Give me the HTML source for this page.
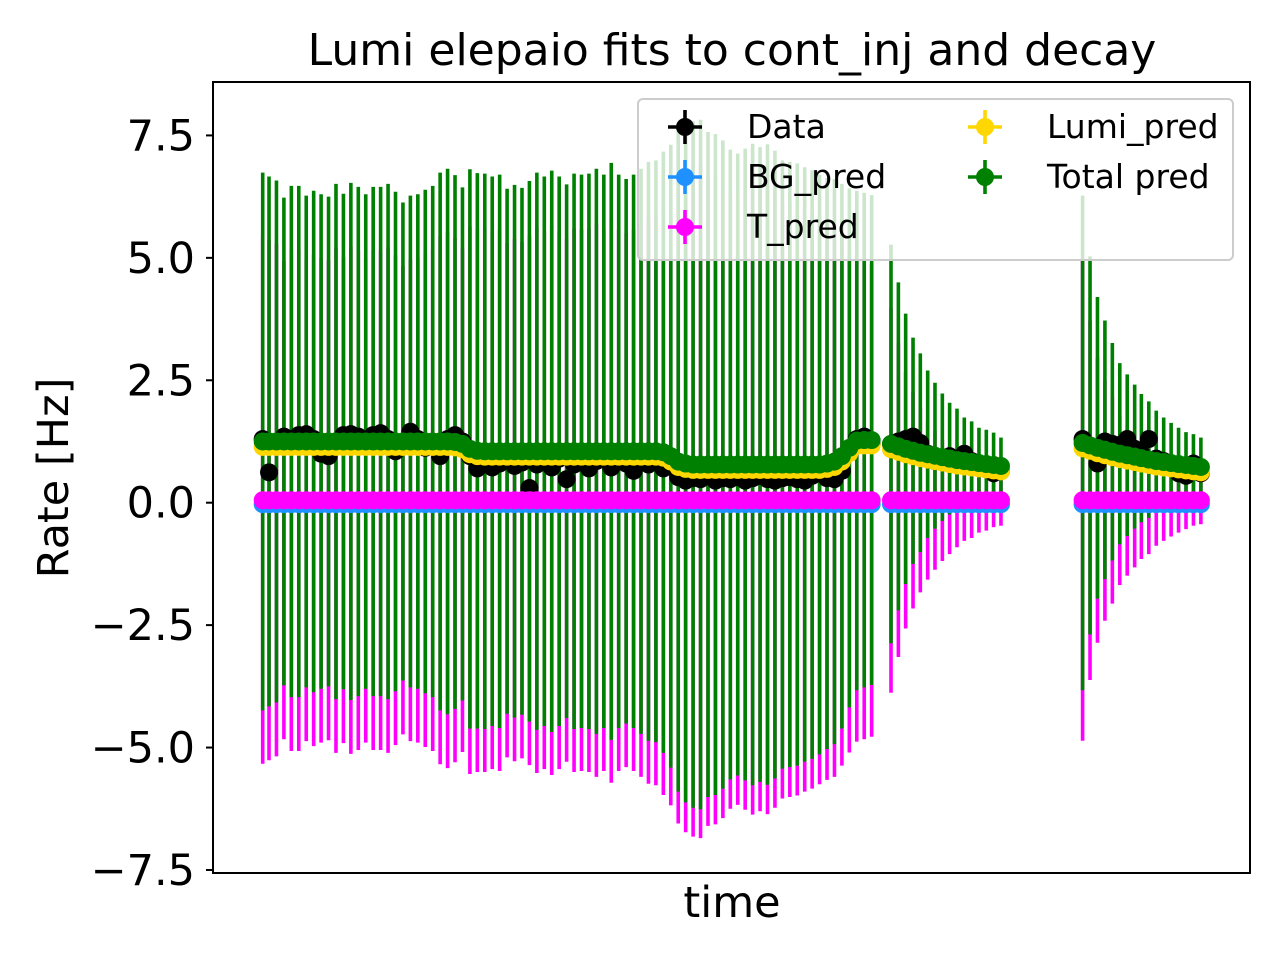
<!DOCTYPE html>
<html><head><meta charset="utf-8"><style>
html,body{margin:0;padding:0;background:#fff;}
svg{display:block;font-family:"DejaVu Sans","Liberation Sans",sans-serif;}
</style></head><body>
<svg id="chart" width="1280" height="960" viewBox="0 0 1280 960" xmlns="http://www.w3.org/2000/svg">
<rect x="0" y="0" width="1280" height="960" fill="#fff"/>
<text x="732" y="65" text-anchor="middle" font-size="44" fill="#000">Lumi elepaio fits to cont_inj and decay</text>
<g id="plot"></g>
<text x="732" y="917" text-anchor="middle" font-size="43" fill="#000">time</text>
<text transform="translate(68,478) rotate(-90)" text-anchor="middle" font-size="43" fill="#000">Rate [Hz]</text>
</svg>
<script>
const times=[0,0.85,1.85,2.85,3.85,4.85,5.85,6.85,7.85,8.85,9.85,10.85,11.85,12.85,13.85,14.85,15.85,16.85,17.85,18.85,19.85,20.85,21.85,22.85,23.85,24.85,25.85,26.85,27.85,28.85,29.85,30.85,31.85,32.85,33.85,34.85,35.85,36.85,37.85,38.85,39.85,40.85,41.85,42.85,43.85,44.85,45.85,46.85,47.85,48.85,49.85,50.85,51.85,52.85,53.85,54.85,55.85,56.85,57.85,58.85,59.85,60.85,61.85,62.85,63.85,64.85,65.85,66.85,67.85,68.85,69.85,70.85,71.85,72.85,73.85,74.85,75.85,76.85,77.85,78.85,79.85,80.85,81.85,
84.45,85.44,86.42,87.41,88.39,89.38,90.36,91.35,92.33,93.32,94.30,95.29,96.27,97.26,98.24,99.23,
110.2,111.2,112.2,113.2,114.2,115.2,116.2,117.2,118.1,119.1,120.1,121.1,122.1,123.1,124.1,125.1,126.1];
const totalPred=[1.25,1.25,1.25,1.25,1.25,1.25,1.25,1.25,1.25,1.25,1.25,1.25,1.25,1.25,1.25,1.25,1.25,1.25,1.25,1.25,1.25,1.25,1.25,1.25,1.25,1.25,1.24,1.20,
1.10,1.06,1.05,1.05,1.05,1.05,1.05,1.05,1.05,1.05,1.05,1.05,1.05,1.05,1.05,1.05,1.05,1.05,1.05,1.05,1.05,1.05,1.05,1.05,1.05,1.05,1.03,0.95,
0.84,0.80,0.78,0.78,0.78,0.78,0.78,0.78,0.78,0.78,0.78,0.78,0.78,0.78,0.78,0.78,0.78,0.78,0.78,0.78,0.80,0.84,
0.95,1.12,1.27,1.28,1.28,
1.20,1.15,1.10,1.06,1.02,0.99,0.96,0.93,0.90,0.87,0.85,0.83,0.81,0.79,0.77,0.75,
1.22,1.17,1.12,1.08,1.04,1.00,0.97,0.94,0.91,0.88,0.85,0.83,0.81,0.79,0.77,0.75,0.73];
const totalErr=[5.49,5.41,5.33,4.98,5.22,5.22,5.02,5.12,5.05,5.00,5.26,5.06,5.28,5.20,5.05,5.20,5.20,5.26,5.10,4.88,5.02,5.05,5.14,5.22,5.49,5.57,5.45,5.24,
5.71,5.67,5.67,5.61,5.65,5.36,5.44,5.38,5.52,5.69,5.61,5.73,5.61,5.45,5.67,5.65,5.67,5.77,5.65,5.89,5.65,5.56,5.65,5.77,5.91,5.94,6.14,6.36,
6.74,6.92,7.01,7.04,6.79,6.75,6.62,6.43,6.35,6.45,6.55,6.48,6.54,6.41,6.21,6.18,6.15,6.07,6.01,5.92,5.83,5.77,
5.56,5.30,5.10,5.05,5.00,
4.07,3.35,2.76,2.31,2.03,1.71,1.49,1.30,1.14,1.05,0.89,0.83,0.72,0.70,0.66,0.58,
5.05,3.86,3.08,2.64,2.22,1.85,1.65,1.47,1.31,1.19,1.03,0.91,0.82,0.74,0.67,0.65,0.60];
const tErr=[5.38,5.31,5.23,4.88,5.12,5.12,4.92,5.02,4.95,4.90,5.16,4.96,5.18,5.10,4.95,5.10,5.10,5.16,5.00,4.78,4.92,4.95,5.04,5.12,5.39,5.47,5.35,5.14,
5.59,5.55,5.55,5.49,5.53,5.25,5.33,5.27,5.41,5.57,5.49,5.61,5.49,5.34,5.55,5.53,5.55,5.65,5.53,5.77,5.53,5.45,5.53,5.65,5.79,5.82,6.02,6.23,
6.60,6.78,6.87,6.90,6.65,6.62,6.49,6.30,6.22,6.32,6.42,6.35,6.41,6.28,6.09,6.06,6.03,5.95,5.89,5.80,5.71,5.65,
5.42,5.15,4.93,4.88,4.83,
3.93,3.20,2.62,2.21,1.88,1.62,1.42,1.24,1.10,0.96,0.83,0.77,0.66,0.62,0.55,0.52,
4.91,3.67,2.91,2.46,2.11,1.73,1.54,1.37,1.20,1.10,0.93,0.83,0.74,0.66,0.59,0.52,0.49];
const dataVals=[1.30,0.62,1.20,1.35,1.30,1.38,1.40,1.30,1.00,0.95,1.25,1.38,1.40,1.35,1.25,1.38,1.42,1.30,1.05,1.20,1.45,1.30,1.12,1.20,0.95,1.30,1.38,1.25,
0.95,0.70,0.85,0.72,0.80,0.88,0.75,0.82,0.30,0.78,0.85,0.72,0.90,0.48,0.78,0.92,0.70,0.85,0.95,0.72,0.88,0.80,0.65,0.90,0.78,0.85,0.70,0.78,
0.52,0.45,0.50,0.48,0.55,0.45,0.50,0.48,0.52,0.45,0.50,0.55,0.48,0.45,0.50,0.52,0.48,0.45,0.55,0.60,0.50,0.48,
0.65,1.05,1.30,1.35,1.20,
1.20,1.25,1.30,1.35,1.22,1.00,0.85,0.90,0.95,0.82,1.00,0.85,0.80,0.70,0.60,0.65,
1.30,1.15,0.80,1.25,1.20,1.18,1.30,1.10,1.00,1.30,0.90,0.85,0.80,0.60,0.55,0.80,0.60];
const bgLevel=-0.03;
const tLevel=0.05;
const yTicks=[-7.5,-5.0,-2.5,0.0,2.5,5.0,7.5];
const yTickLabels=["\u22127.5","\u22125.0","\u22122.5","0.0","2.5","5.0","7.5"];

const NS="http://www.w3.org/2000/svg";
const L=213,R=1250,T=82,B=873;
function xs(t){return 262.7+7.44*t;}
function ys(v){return 502.7-48.97*v;}
const plot=document.getElementById('plot');
function mk(tag,attrs,parent){const e=document.createElementNS(NS,tag);for(const k in attrs)e.setAttribute(k,attrs[k]);(parent||plot).appendChild(e);return e;}

const gT=mk('g',{});


const gG=mk('g',{});


times.forEach((t,i)=>{
  const x=xs(t);
  const a=mk('line',{x1:x,x2:x,y1:ys(tLevel+tErr[i]),y2:ys(tLevel-tErr[i]),stroke:'#ff00ff','stroke-width':3.6},gT);
  
  
  const b=mk('line',{x1:x,x2:x,y1:ys(totalPred[i]+totalErr[i]),y2:ys(totalPred[i]-totalErr[i]),stroke:'#008000','stroke-width':3.6},gG);
  
  
});
function dots(name,vals,color){
  const g=mk('g',{});
  
  
  times.forEach((t,i)=>{
    const c=mk('circle',{cx:xs(t),cy:ys(vals[i]),r:9,fill:color},g);
    
    
  });
}
dots('data',dataVals,'#000000');
dots('bg-pred',times.map(()=>bgLevel),'#1e90ff');
dots('t-pred',times.map(()=>tLevel),'#ff00ff');
dots('lumi-pred',totalPred.map(v=>v-bgLevel-tLevel-0.09),'#ffd700');
dots('total-pred',totalPred,'#008000');

const fr=mk('rect',{x:L,y:T,width:R-L,height:B-T,fill:'none',stroke:'#000','stroke-width':2});


yTicks.forEach((v,i)=>{
  const y=ys(v);
  const tk=mk('line',{x1:L-7,x2:L,y1:y,y2:y,stroke:'#000','stroke-width':2});
  
  
  const tx=mk('text',{x:L-18,y:y+15,'text-anchor':'end','font-size':43,fill:'#000'});
  tx.textContent=yTickLabels[i];
  
  
});

const lg=mk('g',{});


const lb=mk('rect',{x:638,y:99,width:595,height:161,rx:5,fill:'#fff','fill-opacity':0.8,stroke:'#cccccc','stroke-width':2},lg);


const legNames=['Data','BG_pred','T_pred','Lumi_pred','Total pred'];
const legColors=['#000000','#1e90ff','#ff00ff','#ffd700','#008000'];
const legX=[685,685,685,985,985];
const legY=[127,177,227,127,177];
legNames.forEach((n,i)=>{
  const e=mk('g',{},lg);
  
  
  const x=legX[i],y=legY[i],c=legColors[i];
  mk('line',{x1:x-17,x2:x+17,y1:y,y2:y,stroke:c,'stroke-width':3.6},e);
  mk('line',{x1:x,x2:x,y1:y-17,y2:y+17,stroke:c,'stroke-width':3.6},e);
  mk('circle',{cx:x,cy:y,r:9,fill:c},e);
  const t=mk('text',{x:x+62,y:y+11,'font-size':33,fill:'#000'},e);
  t.textContent=n;
  
  
});
</script>
</body></html>
